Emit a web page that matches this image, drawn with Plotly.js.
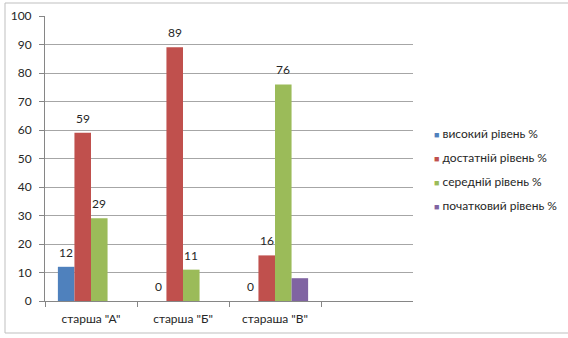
<!DOCTYPE html>
<html><head><meta charset="utf-8">
<script src="https://cdn.plot.ly/plotly-3.0.1.min.js"></script>
<style>html,body{margin:0;padding:0;background:#fff}#chart{width:568px;height:338px}</style>
</head><body><div id="chart"></div>
<script>
const categories = ['старша "А"', 'старша "Б"', 'стараша "В"'];
const seriesNames = ['високий рівень %', 'достатній рівень %', 'середній рівень %', 'початковий рівень %'];
const visokiy = [12, 0, 0];
const dostatniy = [59, 89, 16];
const seredniy = [29, 11, 76];
const pochatkoviy = [0, 0, 8];
const colors = ['#4F81BD', '#C0504D', '#9BBB59', '#8064A2'];
const showLabels = [true, true, true, false];
const yTicks = [0, 10, 20, 30, 40, 50, 60, 70, 80, 90, 100];

const font = 'Lato, "Open Sans", sans-serif';
const allSeries = [visokiy, dostatniy, seredniy, pochatkoviy];
const traces = allSeries.map((vals, i) => ({
  type: 'bar', name: seriesNames[i], x: categories, y: vals,
  marker: {color: colors[i]},
  hoverinfo: 'skip'
}));

// data labels from the same arrays, lifted slightly above the bar tops
const groupW = 1 - 0.28;
const labelAnn = [];
allSeries.forEach((vals, i) => {
  if (!showLabels[i]) return;
  vals.forEach((v, j) => {
    labelAnn.push({
      xref: 'x', yref: 'y', x: j - groupW / 2 + groupW / 4 * (i + 0.5), y: v,
      xanchor: 'center', yanchor: 'bottom', showarrow: false, yshift: 5,
      text: String(v), font: {family: font, size: 12, color: '#262626'}
    });
  });
});

const legendAnn = seriesNames.map((n, i) => ({
  xref: 'paper', yref: 'paper', x: (432 - 45) / 368, y: (301 - (133 + i * 24)) / 285,
  xanchor: 'left', yanchor: 'middle', showarrow: false, align: 'left',
  text: '<span style="color:' + colors[i] + ';font-size:9px">■</span> ' + n,
  font: {family: font, size: 12, color: '#262626'}
}));

const layout = {
  width: 568, height: 338,
  margin: {l: 45, r: 155, t: 16, b: 37},
  paper_bgcolor: '#fff', plot_bgcolor: '#fff',
  showlegend: false,
  barmode: 'group', bargap: 0.28, bargroupgap: 0,
  font: {family: font, size: 12, color: '#262626'},
  xaxis: {
    type: 'category', range: [-0.5, 3.5], tickson: 'boundaries',
    ticks: 'outside', ticklen: 5, tickcolor: '#868686',
    showline: true, linecolor: '#868686', showgrid: false, ticklabelstandoff: 7,
    tickfont: {family: font, size: 12, color: '#262626'}, fixedrange: true
  },
  yaxis: {
    range: [0, 100], tickvals: yTicks, ticks: 'outside', ticklen: 5, tickcolor: '#868686',
    showline: true, linecolor: '#868686', showgrid: true, gridcolor: '#A6A6A6',
    zeroline: false, ticklabelstandoff: 5,
    tickfont: {family: font, size: 12, color: '#262626'}, fixedrange: true
  },
  annotations: labelAnn.concat(legendAnn),
  shapes: [{
    type: 'rect', xref: 'paper', yref: 'paper',
    x0: (5 - 45) / 368, x1: 1.6, y0: (301 - 333) / 285, y1: (301 - 3) / 285,
    line: {color: '#BFBFBF', width: 1}, fillcolor: 'rgba(0,0,0,0)', layer: 'below'
  }]
};
Plotly.newPlot('chart', traces, layout, {displayModeBar: false, staticPlot: true});
</script></body></html>
